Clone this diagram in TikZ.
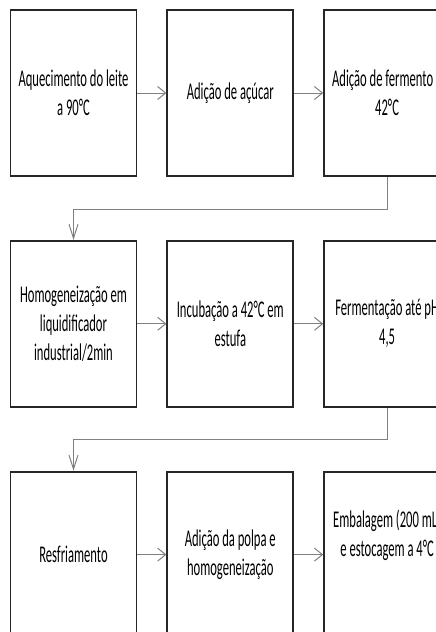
\documentclass[tikz,border=0pt]{standalone}
\usepackage{fontspec}
\setmainfont{Carlito}[FakeStretch=0.525]
\usetikzlibrary{positioning,arrows.meta}

\begin{document}
\begin{tikzpicture}[
  x=1pt, y=-1pt,
  node distance=63pt and 29pt,
  stepbox/.style={draw=black!85, line width=1.8pt, minimum width=126pt,
                  minimum height=166pt, inner sep=0pt, align=center,
                  font=\fontsize{24pt}{29pt}\selectfont},
  flow/.style={draw=black!50, line width=1pt,
               -{Straight Barb[length=8pt,width=13pt]}},
  drop/.style={flow, -{Straight Barb[length=14pt,width=9pt]}}
]
  \useasboundingbox (0,0) rectangle (436,632);
  \clip (0,0) rectangle (436,632);

  % First row
  \node[stepbox] (heat) at (73.5,93) {Aquecimento do leite\\a 90°C};
  \node[stepbox, right=of heat] (sugar) {Adição de açúcar};
  \node[stepbox, right=of sugar] (starter) {Adição de fermento a\\42°C};

  % Second row
  \node[stepbox, below=of heat] (blend) {Homogeneização em\\liquidificador\\industrial/2min};
  \node[stepbox, right=of blend] (incub) {Incubação a 42°C em\\estufa};
  \node[stepbox, right=of incub] (ferm) {Fermentação até pH\\4,5};

  % Third row
  \node[stepbox, below=of blend] (cool) {Resfriamento};
  \node[stepbox, right=of cool] (pulp) {Adição da polpa e\\homogeneização};
  \node[stepbox, right=of pulp] (pack) {Embalagem (200 mL)\\e estocagem a 4°C\\[14pt]~};

  % Connectors
  \draw[flow] (heat) -- (sugar);
  \draw[flow] (sugar) -- (starter);
  \draw[drop] (starter.south) -- ++(0,-33pt) -| (blend.north);
  \draw[flow] (blend) -- (incub);
  \draw[flow] (incub) -- (ferm);
  \draw[drop] (ferm.south) -- ++(0,-32pt) -| (cool.north);
  \draw[flow] (cool) -- (pulp);
  \draw[flow] (pulp) -- (pack);
\end{tikzpicture}
\end{document}
